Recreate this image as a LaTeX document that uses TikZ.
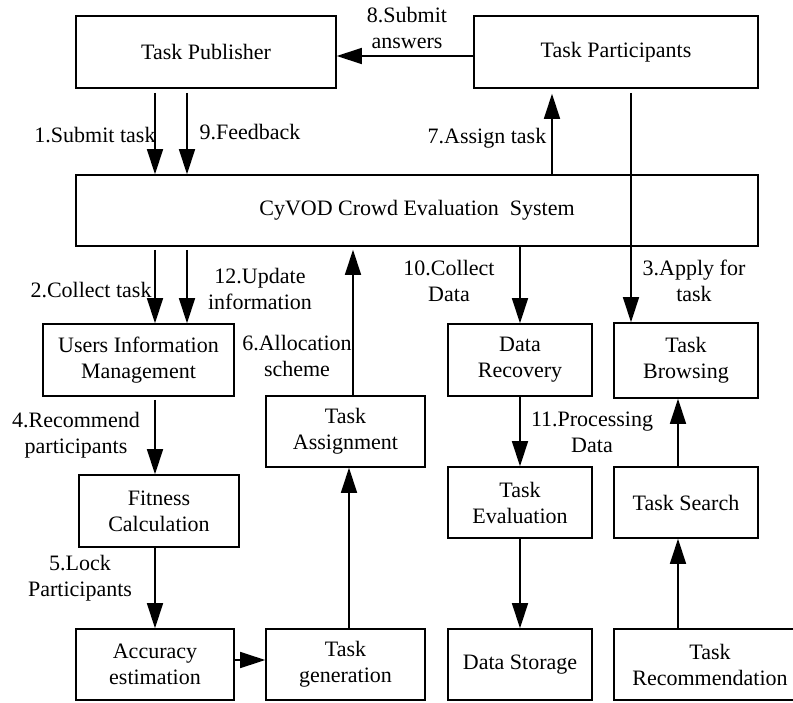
\documentclass[tikz,border=0pt]{standalone}
\usepackage{fontspec}
\setmainfont{Liberation Serif}
\usetikzlibrary{arrows.meta,calc,positioning}

\begin{document}
\begin{tikzpicture}[x=1pt,y=-1pt,
  font=\fontsize{22}{26}\selectfont,
  box/.style={draw, line width=1.6pt, align=center, inner sep=0pt, minimum height=71},
  lbl/.style={align=center, inner sep=0pt},
  flow/.style={line width=1.6pt, -{Triangle[length=25pt,width=16pt]}}]
  \useasboundingbox (0,0) rectangle (793,702);

  \node[box, minimum width=260, minimum height=72] (pub) at (206,52) {Task Publisher};
  \node[box, minimum width=284, minimum height=72] (part) at (616,52) {Task Participants};
  \node[box, minimum width=682] (sys) at (417,210.5) {CyVOD Crowd Evaluation~ System};
  \node[box, minimum width=191, minimum height=72] (uim) at (138.5,360) {Users Information\\Management};
  \node[box, minimum width=160, minimum height=72] (fit) at (159,511) {Fitness\\Calculation};
  \node[box, minimum width=158] (acc) at (155,664.5) {Accuracy\\estimation};
  \node[box, minimum width=159] (gen) at (345.5,664.5) {Task\\generation};
  \node[box, minimum width=159] (asg) at (345.5,431.5) {Task\\Assignment};
  \node[box, minimum width=144, minimum height=72] (rec) at (520,360) {Data\\Recovery};
  \node[box, minimum width=144, minimum height=75] (brw) at (686,360.5) {Task\\Browsing};
  \node[box, minimum width=144] (evl) at (520,502.5) {Task\\Evaluation};
  \node[box, minimum width=144] (srch) at (686,502.5) {Task Search};
  \node[box, minimum width=144] (sto) at (520,664.5) {Data Storage};
  \node[box, minimum width=192] (trc) at (710,664.5) {Task\\Recommendation};

  \coordinate (xa) at (155,0);
  \coordinate (xb) at (187,0);
  \coordinate (xc) at (353,0);
  \coordinate (xd) at (349,0);
  \coordinate (xe) at (520,0);
  \coordinate (xf) at (552,0);
  \coordinate (xg) at (631,0);
  \coordinate (xh) at (678,0);
  \coordinate (ya) at (0,660);

  \draw[flow, shorten <=4pt] (pub.south -| xa) -- (sys.north -| xa);
  \draw[flow, shorten <=4pt] (pub.south -| xb) -- (sys.north -| xb);
  \draw[flow, shorten >=5pt] (sys.north -| xf) -- (part.south -| xf);
  \draw[flow] ([yshift=-4pt]part.west) -- ([yshift=-4pt]pub.east);
  \draw[flow, shorten <=4pt] (part.south -| xg) -- (brw.north -| xg);
  \draw[flow, shorten <=3pt] (sys.south -| xa) -- (uim.north -| xa);
  \draw[flow, shorten <=3pt] (sys.south -| xb) -- (uim.north -| xb);
  \draw[flow, shorten >=3pt] (asg.north -| xc) -- (sys.south -| xc);
  \draw[flow] (sys.south -| xe) -- (rec.north -| xe);
  \draw[flow, shorten <=3pt] (uim.south -| xa) -- (fit.north -| xa);
  \draw[flow] (fit.south -| xa) -- (acc.north -| xa);
  \draw[flow] (acc.east |- ya) -- (gen.west |- ya);
  \draw[flow] (gen.north -| xd) -- (asg.south -| xd);
  \draw[flow] (rec.south -| xe) -- (evl.north -| xe);
  \draw[flow] (evl.south -| xe) -- (sto.north -| xe);
  \draw[flow] (trc.north -| xh) -- (srch.south -| xh);
  \draw[flow] (srch.north -| xh) -- (brw.south -| xh);

  \node[lbl] (l1) at (95,135) {1.Submit task};
  \node[lbl] (l9) at (250,132) {9.Feedback};
  \node[lbl] (l8) at (407,28) {8.Submit\\answers};
  \node[lbl] (l7) at (487,138) {7.Assign task};
  \node[lbl] (l2) at (91,290) {2.Collect task};
  \node[lbl] (l12) at (260,289) {12.Update\\information};
  \node[lbl] (l6) at (297,356) {6.Allocation\\scheme};
  \node[lbl] (l4) at (76,435) {4.Recommend\\participants};
  \node[lbl] (l5) at (80,578) {5.Lock\\Participants};
  \node[lbl] (l10) at (449,281) {10.Collect\\Data};
  \node[lbl] (l3) at (694,281) {3.Apply for\\task};
  \node[lbl] (l11) at (592,432) {11.Processing\\Data};
\end{tikzpicture}
\end{document}
